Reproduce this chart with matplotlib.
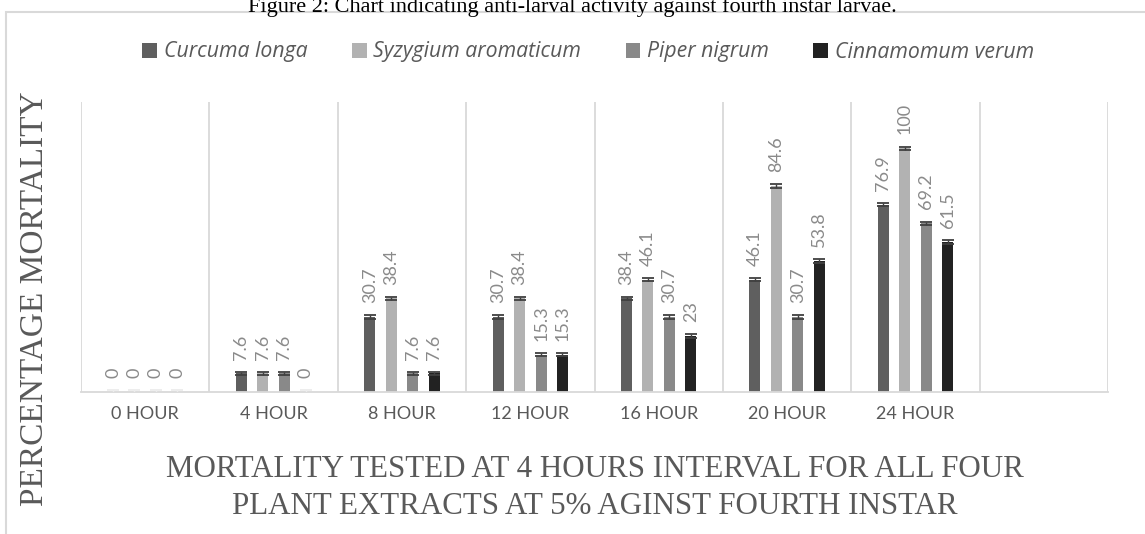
import matplotlib.pyplot as plt
from matplotlib.patches import Rectangle
import numpy as np

# Дані
hours = ['0 HOUR', '4 HOUR', '8 HOUR', '12 HOUR', '16 HOUR', '20 HOUR', '24 HOUR']
curcuma = [0, 7.6, 30.7, 30.7, 38.4, 46.1, 76.9]
syzygium = [0, 7.6, 38.4, 38.4, 46.1, 84.6, 100]
piper = [0, 7.6, 7.6, 15.3, 30.7, 30.7, 69.2]
cinnamomum = [0, 0, 7.6, 15.3, 23, 53.8, 61.5]
err = [0.7, 0.7, 0.7, 0.7, 0.7, 0.7, 0.7]

names = ['Curcuma longa', 'Syzygium aromaticum', 'Piper nigrum', 'Cinnamomum verum']
colors = ['#5f5f5f', '#b2b2b2', '#898989', '#222222']
series = [curcuma, syzygium, piper, cinnamomum]

fig = plt.figure(figsize=(11.45, 5.34), dpi=100)
ax = fig.add_axes([81 / 1145, 1 - 392 / 534, 1027 / 1145, 290 / 534])

x = np.arange(len(hours))
step = 0.167
width = 0.086

for i, (vals, col, name) in enumerate(zip(series, colors, names)):
    pos = x + (i - 1.5) * step
    vals = np.array(vals)
    ax.bar(pos, vals, width, color=col, label=name, zorder=2)
    for p, v, e in zip(pos, vals, err):
        ec = '#404040' if v > 0 else '#ececec'
        ax.errorbar(p, v, yerr=e, fmt='none', ecolor=ec, elinewidth=1,
                    capsize=4, capthick=1.3, zorder=3)
        ax.annotate(f'{v:g}', (p, v), xytext=(0, 10), textcoords='offset points',
                    rotation=90, ha='center', va='bottom', fontsize=13,
                    color='#8a8a8a', family='Lato')

ax.set_xlim(-0.5, len(hours) + 0.5)
ax.set_ylim(0, 119)
ax.set_yticks([])
ax.set_xticks(x)
ax.set_xticklabels(hours, fontsize=13, color='#595959', family='Lato')
ax.set_xticks(np.arange(-0.5, len(hours) + 1, 1), minor=True)
ax.tick_params(axis='x', which='both', length=0, pad=10)
ax.grid(axis='x', which='minor', color='#d9d9d9', linewidth=1.3, zorder=0)
for s in ['top', 'left', 'right']:
    ax.spines[s].set_visible(False)
ax.spines['bottom'].set_color('#d9d9d9')
ax.spines['bottom'].set_linewidth(1.3)

ax.set_xlabel('MORTALITY TESTED AT 4 HOURS INTERVAL FOR ALL FOUR\nPLANT EXTRACTS AT 5% AGINST FOURTH INSTAR',
              family='Liberation Serif', fontsize=22.3, color='#595959', labelpad=24,
              linespacing=1.35)
fig.text(35 / 1145, 1 - 299 / 534, 'PERCENTAGE MORTALITY', rotation=90,
         ha='center', va='center', family='Liberation Serif', fontsize=24, color='#595959')

fig.text(0.5, 1 - 12 / 534, 'Figure 2: Chart indicating anti-larval activity against fourth instar larvae.',
         ha='center', va='baseline', family='Liberation Serif', fontsize=16, color='black')

# рамка
fig.patches.append(Rectangle((6 / 1145, -0.2), 1.2, 1.2 - 12 / 534, transform=fig.transFigure,
                             fill=False, edgecolor='#d9d9d9', linewidth=1.5))

leg = fig.legend(loc='center', bbox_to_anchor=(588 / 1145, 1 - 52 / 534), ncol=4,
                 frameon=False, handlelength=0.7, handleheight=0.7, handletextpad=0.3,
                 columnspacing=2.1, prop={'family': 'Open Sans', 'style': 'italic', 'size': 15.3})
for t in leg.get_texts():
    t.set_color('#595959')

fig.savefig('out.png', dpi=100)
